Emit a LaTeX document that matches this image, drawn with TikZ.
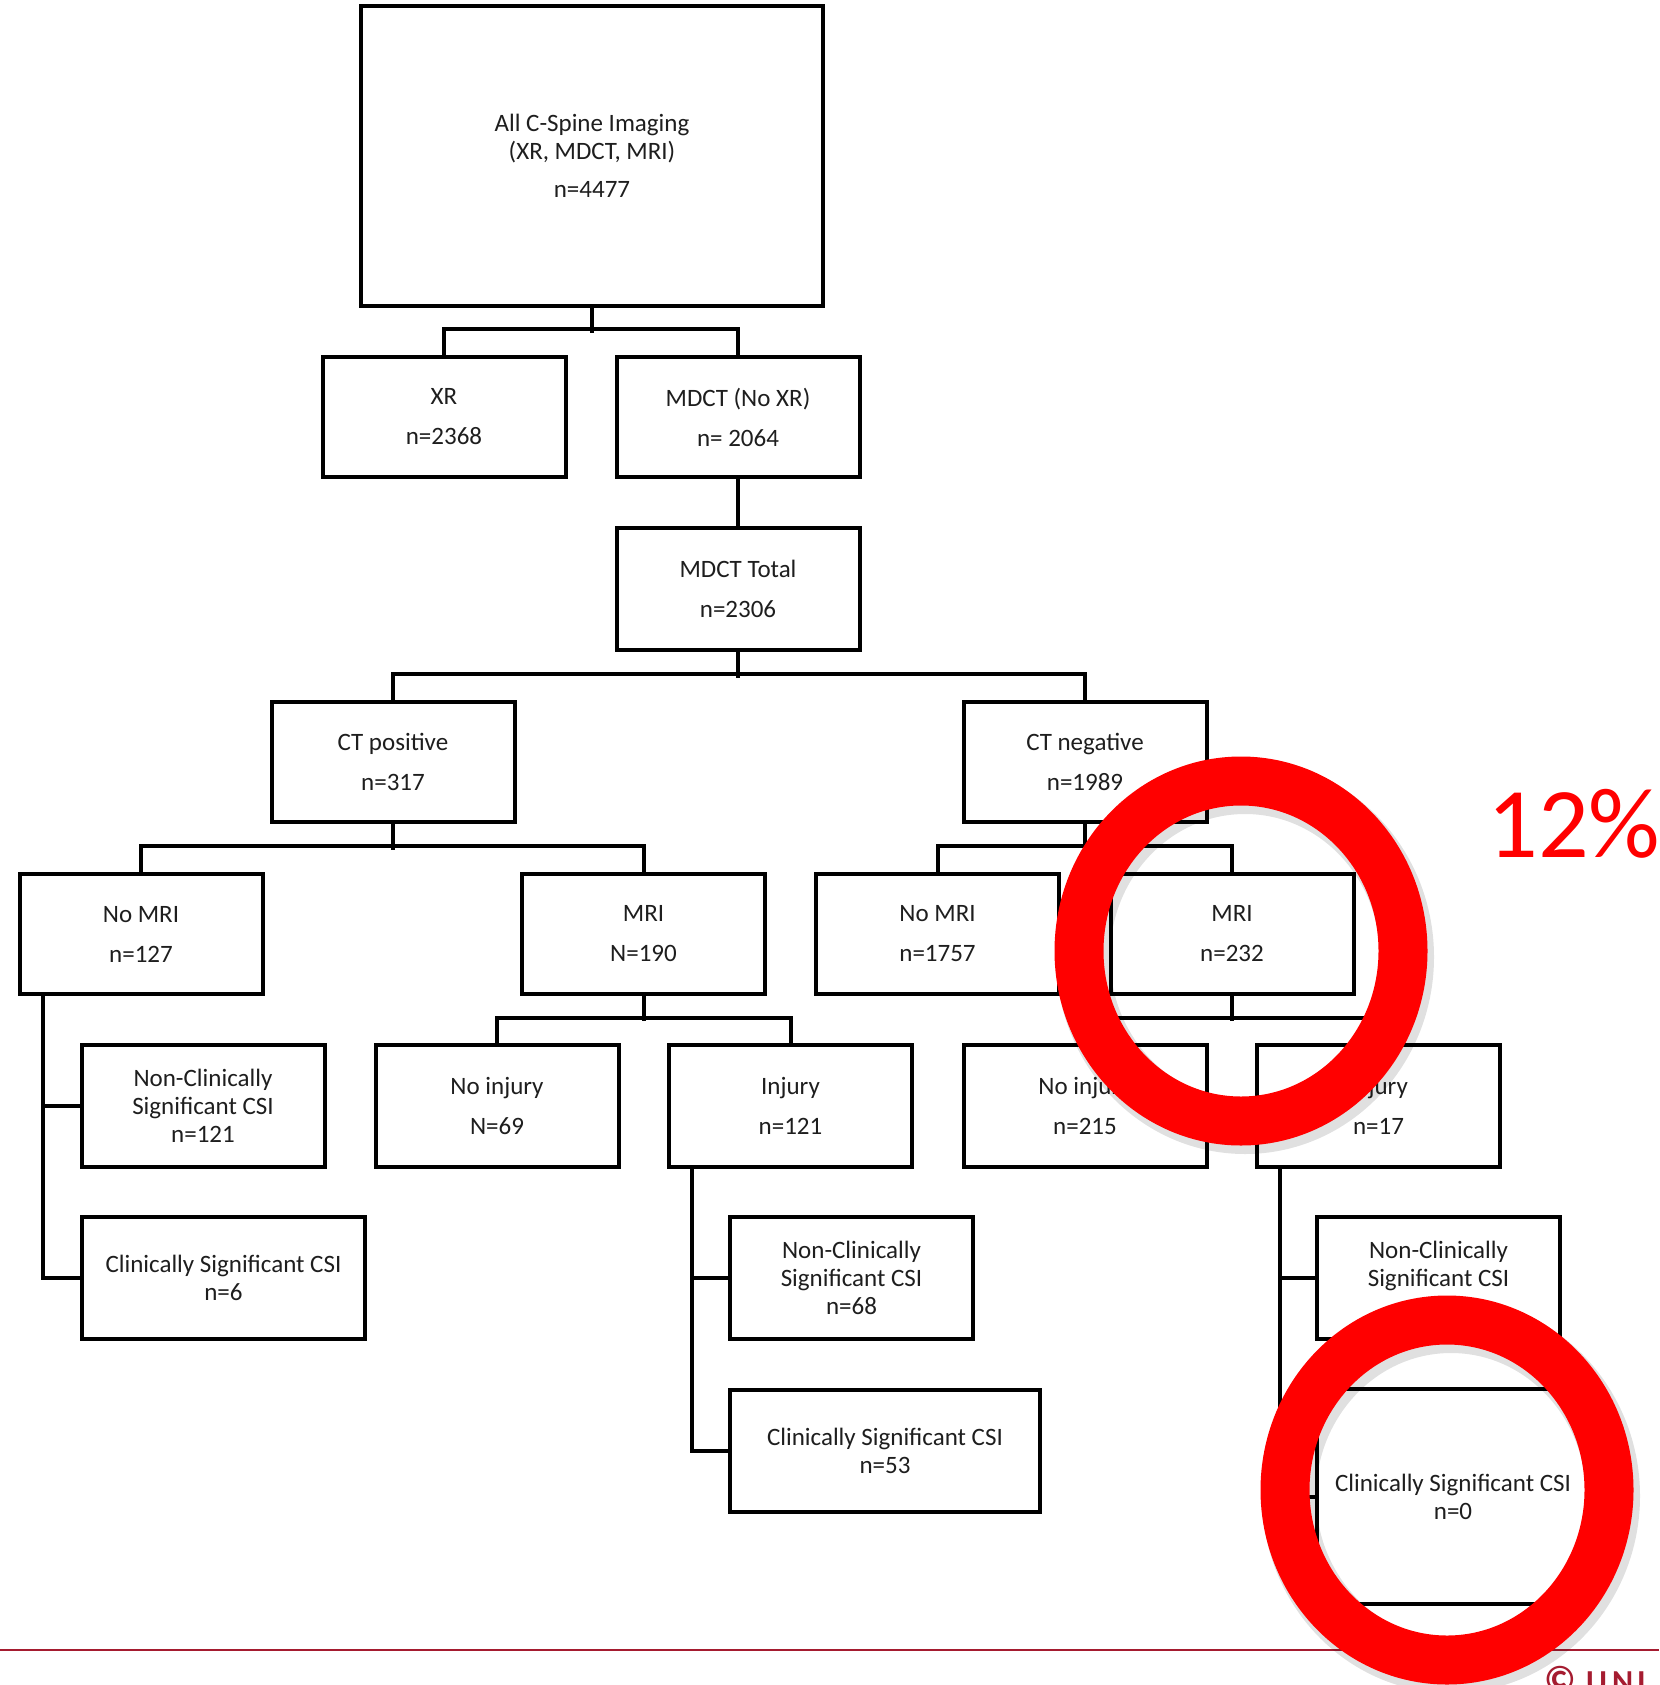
\documentclass[tikz,border=0pt]{standalone}
\usepackage{fontspec}
\setmainfont{Carlito}
\usetikzlibrary{calc}
\definecolor{boxtext}{HTML}{1E1E1E}
\definecolor{unired}{HTML}{A51C30}
\definecolor{ringred}{HTML}{FF0000}
\begin{document}
\begin{tikzpicture}[x=0.5pt,y=-0.5pt,
  box/.style={draw=black,line width=2pt,minimum width=121.5pt,minimum height=60pt,
    inner sep=2pt,align=center,text=boxtext,font=\fontsize{12.5}{14}\selectfont},
  conn/.style={draw=black,line width=2pt},
  ring/.style={draw=ringred,line width=24.5pt},
  ringshadow/.style={draw=black,opacity=0.12,line width=27pt}]
\useasboundingbox (0,0) rectangle (1659,1685);
\fill[white] (0,0) rectangle (1659,1685);
\begin{scope}
\clip (0,0) rectangle (1659,1685);
% boxes
\node[box,minimum width=231pt,minimum height=150pt] (top) at (592,156)
  {All C-Spine Imaging\\(XR, MDCT, MRI)\\[5pt]n=4477};
\node[box] (xr) at (444,417) {XR\\[6pt]n=2368};
\node[box] (mdct) at (738,417) {MDCT (No XR)\\[6pt]n= 2064};
\node[box,minimum height=61pt] (mtot) at (738,589) {MDCT Total\\[6pt]n=2306};
\node[box] (ctp) at (393,762) {CT positive\\[6pt]n=317};
\node[box] (ctn) at (1085,762) {CT negative\\[6pt]n=1989};
\node[box] (nomri1) at (141,934) {No MRI\\[6pt]n=127};
\node[box] (mri1) at (643.5,934) {MRI\\[6pt]N=190};
\node[box] (nomri2) at (937.5,934) {No MRI\\[6pt]n=1757};
\node[box] (mri2) at (1232,934) {MRI\\[6pt]n=232};
\node[box,minimum height=61pt] (nc1) at (203,1106) {Non-Clinically\\Significant CSI\\n=121};
\node[box,minimum width=141.5pt,minimum height=61pt] (cs1) at (223.5,1278) {Clinically Significant CSI\\n=6};
\node[box,minimum height=61pt] (noinj1) at (497,1106) {No injury\\[6pt]N=69};
\node[box,minimum height=61pt] (inj1) at (790.5,1106) {Injury\\[6pt]n=121};
\node[box,minimum height=61pt] (noinj2) at (1085,1106) {No injury\\[6pt]n=215};
\node[box,minimum height=61pt] (inj2) at (1378.5,1106) {Injury\\[6pt]n=17};
\node[box,minimum height=61pt] (nc2) at (851.5,1278) {Non-Clinically\\Significant CSI\\n=68};
\node[box,minimum width=155pt,minimum height=61pt] (cs2) at (885,1451) {Clinically Significant CSI\\n=53};
\node[box,minimum height=61pt] (nc3) at (1438.5,1278) {Non-Clinically\\Significant CSI\\\phantom{n=0}};
\node[box,minimum width=136pt,minimum height=107.5pt] (cs3) at (1453,1496.5) {Clinically Significant CSI\\n=0};
% connectors
\draw[conn] (top.south) -- ++(0,25);
\draw[conn] (xr.north) -- ++(0,-26) -| (mdct.north);
\draw[conn] (mdct.south) -- (mtot.north);
\draw[conn] (mtot.south) -- ++(0,26);
\draw[conn] (ctp.north) -- ++(0,-26) -| (ctn.north);
\draw[conn] (ctp.south) -- ++(0,26);
\draw[conn] (nomri1.north) -- ++(0,-26) -| (mri1.north);
\draw[conn] (ctn.south) -- ++(0,26);
\draw[conn] (nomri2.north) -- ++(0,-26) -| (mri2.north);
\draw[conn] (mri1.south) -- ++(0,25);
\draw[conn] (noinj1.north) -- ++(0,-25) -| (inj1.north);
\draw[conn] (mri2.south) -- ++(0,25);
\draw[conn] (noinj2.north) -- ++(0,-25) -| (inj2.north);
\coordinate (v1) at ($(nomri1.south west)+(25,0)$);
\draw[conn] (v1) |- (nc1.west);
\draw[conn] (v1) |- (cs1.west);
\coordinate (v2) at ($(inj1.south west)+(25,0)$);
\draw[conn] (v2) |- (nc2.west);
\draw[conn] (v2) |- (cs2.west);
\coordinate (v3) at ($(inj2.south west)+(25,0)$);
\draw[conn] (v3) |- (nc3.west);
\draw[conn] (v3) |- (cs3.west);
% bottom rule and footer
\draw[draw=unired,line width=1.2pt] (0,1650) -- (1659,1650);
\node[anchor=base west,inner sep=0pt,text=unired,font=\fontsize{16}{16}\bfseries\selectfont] (foot) at (1544,1692)
  {{\fontsize{19}{19}\selectfont ©}\hspace{5pt}U\hspace{2.5pt}N\hspace{2pt}I};
% highlight rings
\draw[ringshadow] (1245,957) ellipse [x radius=162,y radius=170];
\draw[ring] (1241,951) ellipse [x radius=162,y radius=170];
\draw[ringshadow] (1451,1496) ellipse [x radius=162,y radius=170];
\draw[ring] (1447,1490) ellipse [x radius=162,y radius=170];
\node[anchor=base west,inner sep=0pt,text=ringred,font=\fontsize{50}{50}\selectfont] (pct) at (1487,857) {12\%};
\end{scope}
\end{tikzpicture}
\end{document}
